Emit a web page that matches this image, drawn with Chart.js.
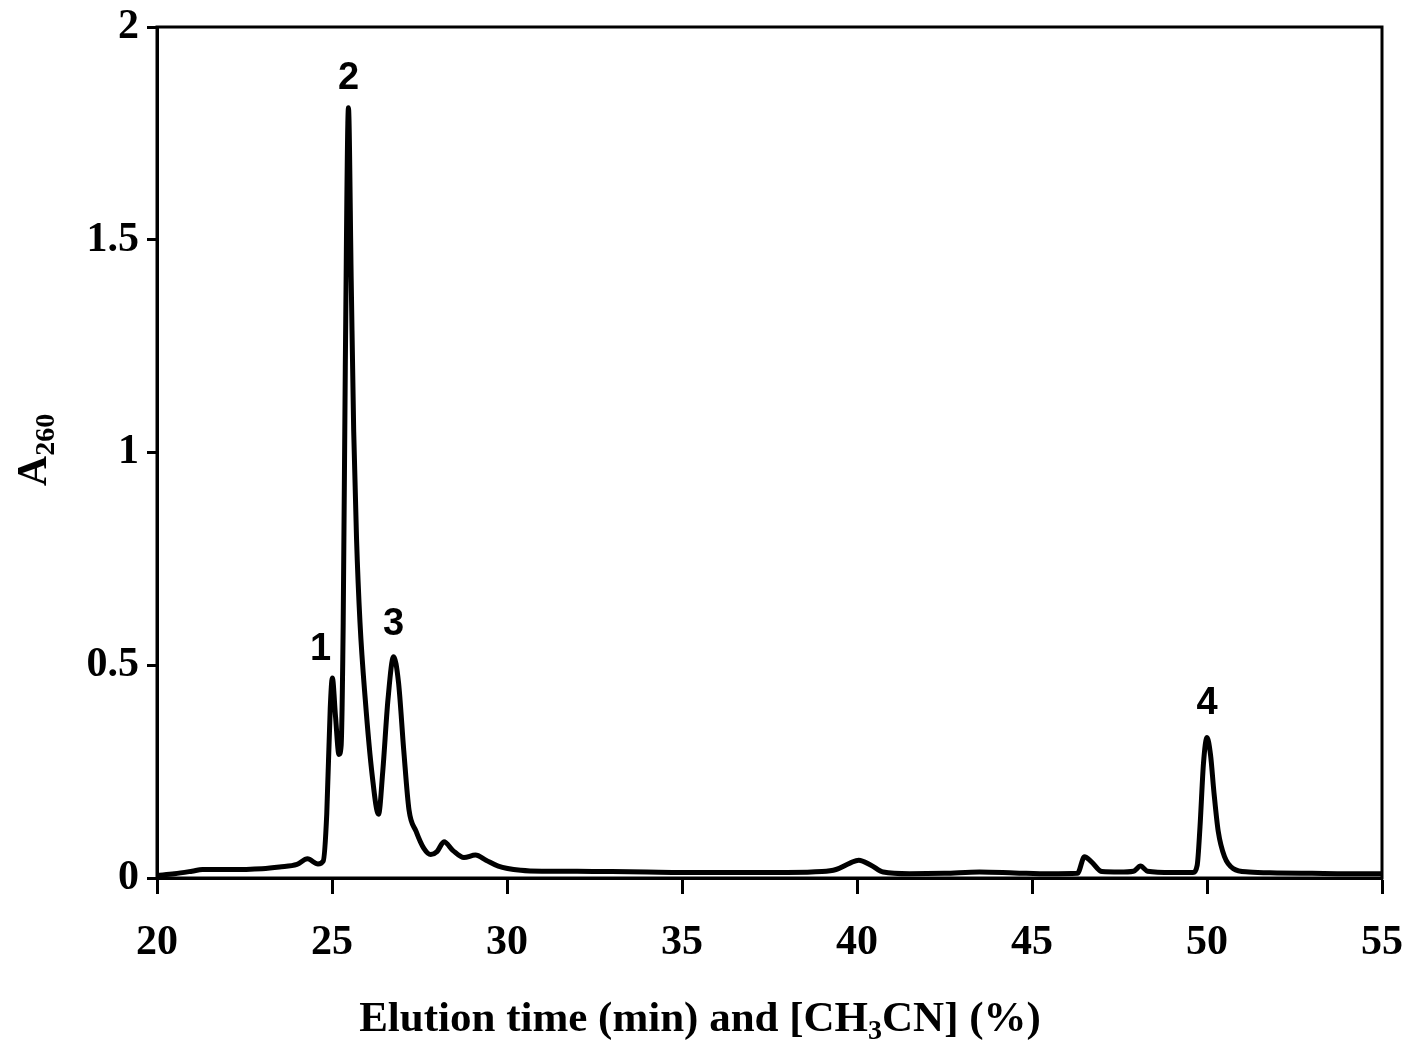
<!DOCTYPE html>
<html>
<head>
<meta charset="utf-8">
<script src="https://cdn.jsdelivr.net/npm/chart.js@4/dist/chart.umd.min.js"></script>
<style>
    html, body { margin: 0; padding: 0; background: #fff; }
    #wrap { width: 1407px; height: 1041px; }
</style>
</head>
<body>
<div id="wrap"><canvas id="chart"></canvas></div>
<script>
// 용출 시간 (min)
const times = [20, 20.5, 21, 21.3, 22, 23, 23.5, 24, 24.3, 24.6, 24.75, 24.85, 24.95, 25.01, 25.1, 25.2,
    25.26, 25.32, 25.38, 25.47, 25.55, 25.62, 25.7, 25.8, 25.95, 26.15, 26.33, 26.45, 26.6, 26.76, 26.9,
    27.05, 27.2, 27.4, 27.62, 27.82, 28.0, 28.2, 28.45, 28.77, 29.1, 29.4, 29.75, 30.4, 31, 32, 33, 34,
    35, 36, 37, 38, 39, 39.4, 39.8, 40.05, 40.4, 40.75, 41.5, 42.5, 43.5, 44.5, 45.5, 46.3, 46.5, 46.7,
    47.0, 47.5, 47.9, 48.1, 48.3, 49, 49.6, 49.72, 49.8, 49.9, 50.0, 50.1, 50.2, 50.32, 50.5, 50.75,
    51.2, 52, 53, 54, 55];

// A260 흡광도
const absorb = [0.006, 0.01, 0.016, 0.02, 0.02, 0.022, 0.026, 0.032, 0.045, 0.033, 0.04, 0.15, 0.40, 0.47, 0.38, 0.29,
    0.31, 0.6, 1.2, 1.81, 1.4, 1.05, 0.8, 0.6, 0.42, 0.24, 0.15, 0.25, 0.42, 0.52, 0.46,
    0.3, 0.16, 0.11, 0.07, 0.055, 0.062, 0.085, 0.065, 0.048, 0.054, 0.042, 0.028, 0.018, 0.016, 0.016, 0.015, 0.014,
    0.013, 0.013, 0.013, 0.013, 0.015, 0.02, 0.035, 0.042, 0.03, 0.014, 0.01, 0.011, 0.014, 0.012, 0.01, 0.011, 0.05, 0.038,
    0.015, 0.014, 0.016, 0.028, 0.016, 0.013, 0.013, 0.03, 0.12, 0.27, 0.33, 0.29, 0.2, 0.11, 0.05, 0.022,
    0.014, 0.012, 0.011, 0.01, 0.01];

// 피크 번호 라벨
const peakNames = ['1', '2', '3', '4'];
const peakX = [24.67, 25.47, 26.76, 50.0];
const peakY = [0.536, 1.88, 0.595, 0.41];

// 축 눈금
const xTicks = [20, 25, 30, 35, 40, 45, 50, 55];
const yTicks = [0, 0.5, 1, 1.5, 2];

const SERIF = '"Liberation Serif", "Times New Roman", serif';

/**
 * 테두리, 피크 라벨, 축 제목
 */
const decorPlugin = {
    id: 'decor',
    afterDraw(chart) {
        const { ctx, chartArea: a, scales } = chart;
        ctx.save();
        ctx.strokeStyle = '#000';
        ctx.lineWidth = 3;
        ctx.strokeRect(a.left, a.top, a.right - a.left, a.bottom - a.top);

        ctx.fillStyle = '#000';
        ctx.font = 'bold 38px "Liberation Sans", Arial, sans-serif';
        ctx.textAlign = 'center';
        ctx.textBaseline = 'middle';
        peakNames.forEach((name, i) => {
            ctx.fillText(name, scales.x.getPixelForValue(peakX[i]), scales.y.getPixelForValue(peakY[i]));
        });

        // x축 제목 (아래첨자 포함)
        const parts = [
            ['Elution time (min) and [CH', 43, 0],
            ['3', 28, 8],
            ['CN] (%)', 43, 0],
        ];
        let total = 0;
        parts.forEach((p) => {
            ctx.font = `bold ${p[1]}px ${SERIF}`;
            total += ctx.measureText(p[0]).width;
        });
        let x = 700 - total / 2;
        ctx.textAlign = 'left';
        ctx.textBaseline = 'alphabetic';
        parts.forEach((p) => {
            ctx.font = `bold ${p[1]}px ${SERIF}`;
            ctx.fillText(p[0], x, 1031 + p[2]);
            x += ctx.measureText(p[0]).width;
        });

        // y축 제목 A260
        ctx.translate(46, 450);
        ctx.rotate(-Math.PI / 2);
        ctx.font = `bold 42px ${SERIF}`;
        const wA = ctx.measureText('A').width;
        ctx.font = `bold 28px ${SERIF}`;
        const wS = ctx.measureText('260').width;
        const sx = -(wA + wS) / 2;
        ctx.font = `bold 42px ${SERIF}`;
        ctx.fillText('A', sx, 0);
        ctx.font = `bold 28px ${SERIF}`;
        ctx.fillText('260', sx + wA, 8);
        ctx.restore();
    },
};

function initChart() {
    const ctx = document.getElementById('chart');
    const points = times.map((t, i) => ({ x: t, y: absorb[i] }));

    new Chart(ctx, {
        type: 'line',
        data: {
            datasets: [
                {
                    data: points,
                    borderColor: '#000',
                    borderWidth: 5,
                    pointRadius: 0,
                    fill: false,
                    cubicInterpolationMode: 'monotone',
                    borderJoinStyle: 'round',
                    borderCapStyle: 'round',
                },
            ],
        },
        options: {
            responsive: true,
            maintainAspectRatio: false,
            animation: false,
            layout: { padding: { top: 27, right: 25, left: 0, bottom: 0 } },
            plugins: { legend: { display: false }, tooltip: { enabled: false } },
            scales: {
                x: {
                    type: 'linear',
                    min: 20,
                    max: 55,
                    afterFit: (s) => {
                        s.height = 163;
                        s.paddingLeft = 0;
                        s.paddingRight = 0;
                    },
                    afterBuildTicks: (s) => { s.ticks = xTicks.map((v) => ({ value: v })); },
                    ticks: {
                        color: '#000',
                        font: { family: SERIF, size: 42, weight: 'bold' },
                        padding: 24,
                        maxRotation: 0,
                        callback: (v) => String(v),
                    },
                    grid: { drawOnChartArea: false, drawTicks: true, tickLength: 16, tickWidth: 3, tickColor: '#000' },
                    border: { display: true, color: '#000', width: 3 },
                },
                y: {
                    min: 0,
                    max: 2,
                    afterFit: (s) => {
                        s.width = 157;
                        s.paddingTop = 0;
                        s.paddingBottom = 0;
                    },
                    afterBuildTicks: (s) => { s.ticks = yTicks.map((v) => ({ value: v })); },
                    ticks: {
                        color: '#000',
                        font: { family: SERIF, size: 42, weight: 'bold' },
                        padding: 8,
                        callback: (v) => String(v),
                    },
                    grid: { drawOnChartArea: false, drawTicks: true, tickLength: 10, tickWidth: 3, tickColor: '#000' },
                    border: { display: true, color: '#000', width: 3 },
                },
            },
        },
        plugins: [decorPlugin],
    });
}

document.addEventListener('DOMContentLoaded', initChart);
</script>
</body>
</html>
